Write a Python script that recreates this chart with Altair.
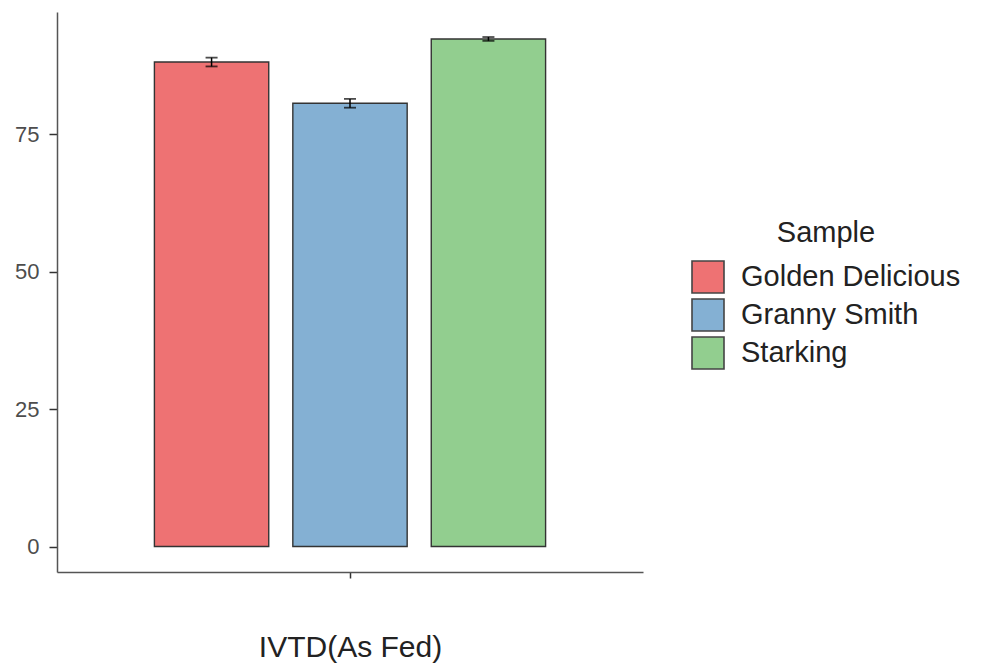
import altair as alt
import pandas as pd

samples = ["Golden Delicious", "Granny Smith", "Starking"]
means = [88.1, 80.6, 92.3]
errors = [0.8, 0.8, 0.35]
category = ["IVTD(As Fed)"] * 3
colors = ["#EE7273", "#84B0D3", "#92CE8F"]

df = pd.DataFrame({
    "cat": category,
    "Sample": samples,
    "mean": means,
    "lo": [m - e for m, e in zip(means, errors)],
    "hi": [m + e for m, e in zip(means, errors)],
})

FONT = "Liberation Sans"

x_enc = alt.X("cat:N", title="IVTD(As Fed)",
              scale=alt.Scale(paddingInner=0, paddingOuter=0.249),
              axis=alt.Axis(labels=False, ticks=True, tickSize=6, tickColor="#333333",
                            domainColor="#555555", domainWidth=1.5, tickWidth=1.5,
                            titleFont=FONT, titleFontSize=30, titleFontWeight="normal",
                            titleColor="#222222", titlePadding=54))
xoff = alt.XOffset("Sample:N", sort=samples,
                   scale=alt.Scale(paddingInner=0.174, paddingOuter=0))
y_scale = alt.Scale(domain=[-4.63, 97.2], nice=False, zero=False)

bars = alt.Chart(df).mark_bar(stroke="#333333", strokeWidth=1.4).encode(
    x=x_enc,
    xOffset=xoff,
    y=alt.Y("mean:Q", scale=y_scale, title=None,
            axis=alt.Axis(values=[0, 25, 50, 75], grid=False, tickSize=8, tickColor="#333333",
                          tickWidth=1.5, domainColor="#555555", domainWidth=1.5,
                          labelFont=FONT, labelFontSize=22, labelColor="#4D4D4D",
                          labelPadding=10)),
    y2=alt.datum(0),
    color=alt.Color("Sample:N", sort=samples,
                    scale=alt.Scale(domain=samples, range=colors),
                    legend=alt.Legend(title="Sample", orient="none", legendX=634, legendY=207,
                                      symbolType="square", symbolSize=1024,
                                      symbolStrokeColor="#444444", symbolStrokeWidth=1.6,
                                      symbolOpacity=1, labelLimit=600,
                                      rowPadding=-2, titleAnchor="middle",
                                      titleFont=FONT, titleFontSize=29, titleFontWeight="normal",
                                      titleColor="#222222", titlePadding=12,
                                      labelFont=FONT, labelFontSize=29, labelColor="#222222",
                                      labelOffset=16)),
)

rules = alt.Chart(df).mark_rule(color="black", strokeWidth=1.5).encode(
    x="cat:N", xOffset=xoff,
    y=alt.Y("lo:Q", scale=y_scale), y2="hi:Q",
)
caps_lo = alt.Chart(df).mark_tick(color="black", size=12, thickness=1.8, orient="horizontal").encode(
    x="cat:N", xOffset=xoff, y=alt.Y("lo:Q", scale=y_scale),
)
caps_hi = alt.Chart(df).mark_tick(color="black", size=12, thickness=1.8, orient="horizontal").encode(
    x="cat:N", xOffset=xoff, y=alt.Y("hi:Q", scale=y_scale),
)

chart = alt.layer(bars, rules, caps_lo, caps_hi).properties(
    width=586, height=560,
    autosize=alt.AutoSizeParams(type="none"),
    padding={"left": 49, "top": 4, "right": 322, "bottom": 95},
    background="white",
).configure_view(stroke=None, strokeWidth=0)

chart.save("out.html", embed_options={"renderer": "svg", "actions": False})
